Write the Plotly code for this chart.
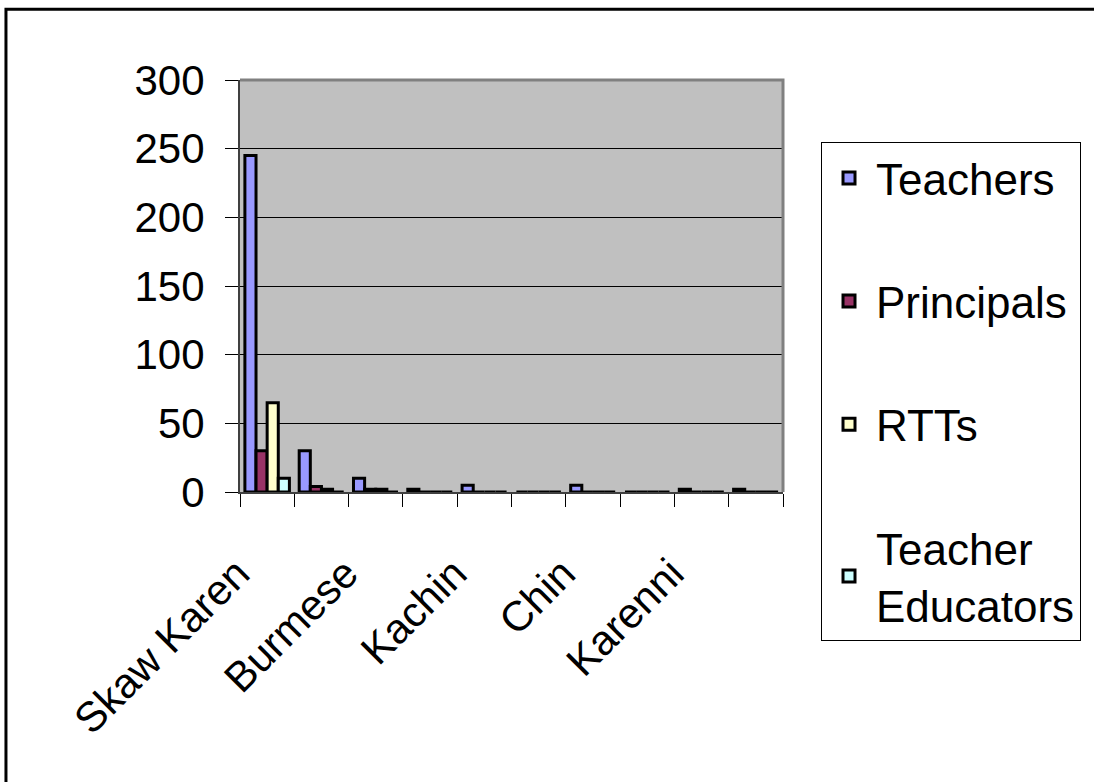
import plotly.graph_objects as go

# languages (only every second one is labelled on the axis)
languages = ["Skaw Karen", "Pwo Karen", "Burmese", "Mon", "Kachin",
             "Shan", "Chin", "Arakan", "Karenni", "Other"]
tick_labels = ["Skaw Karen", "", "Burmese", "", "Kachin",
               "", "Chin", "", "Karenni", ""]

teachers = [245, 30, 10, 2, 5, 0, 5, 0, 2, 2]
principals = [30, 4, 2, 0, 0, 0, 0, 0, 0, 0]
rtts = [65, 2, 2, 0, 0, 0, 0, 0, 0, 0]
teacher_educators = [10, 0, 0, 0, 0, 0, 0, 0, 0, 0]

series = [
    ("Teachers", teachers, "#9999FF"),
    ("Principals", principals, "#993366"),
    ("RTTs", rtts, "#FFFFCC"),
    ("Teacher<br>Educators", teacher_educators, "#CCFFFF"),
]

FONT = "Liberation Sans, Arial, sans-serif"

fig = go.Figure()
for i, (name, vals, color) in enumerate(series):
    fig.add_trace(go.Bar(
        x=languages, y=vals, name=name, legendgroup=str(i),
        marker=dict(color=color, line=dict(color="black", width=3)),
    ))

fig.update_layout(
    width=1094, height=782,
    margin=dict(l=240, r=311, t=80, b=290),
    paper_bgcolor="white",
    plot_bgcolor="#C0C0C0",
    font=dict(family=FONT, size=40, color="black"),
    barmode="group", bargap=0.18, bargroupgap=0,
    showlegend=True,
    legend=dict(
        x=1.07, y=0.85, xanchor="left", yanchor="top",
        bordercolor="black", borderwidth=1, bgcolor="white",
        font=dict(size=44), traceorder="grouped", tracegroupgap=63,
        itemwidth=44, maxheight=700,
    ),
    shapes=[
        # outer frame of the chart
        dict(type="rect", xref="paper", yref="paper",
             x0=-0.431, x1=1.6, y0=-0.75, y1=1.172,
             line=dict(color="black", width=3), layer="below"),
        # top and right border of the plot area
        dict(type="path", xref="paper", yref="paper",
             path="M 0,1 L 1,1 L 1,0",
             line=dict(color="#808080", width=3)),
    ],
)

fig.update_yaxes(
    range=[0, 300], dtick=50, showgrid=True, gridcolor="black", gridwidth=1,
    ticks="outside", ticklen=13, tickcolor="black", tickfont=dict(size=42),
    ticklabelstandoff=12,
    showline=True, linecolor="#404040", linewidth=2, zeroline=False,
)
fig.update_xaxes(
    type="category", tickmode="array", tickvals=languages, ticktext=tick_labels,
    tickson="boundaries", ticks="outside", ticklen=13, tickcolor="black",
    tickangle=-45, showgrid=False, ticklabelstandoff=38, ticklabelshift=-30,
    tickfont=dict(size=42),
    showline=True, linecolor="#404040", linewidth=2,
)

fig.write_html("out.html", config={"displayModeBar": False},
               post_script="document.body.style.margin='0';")
